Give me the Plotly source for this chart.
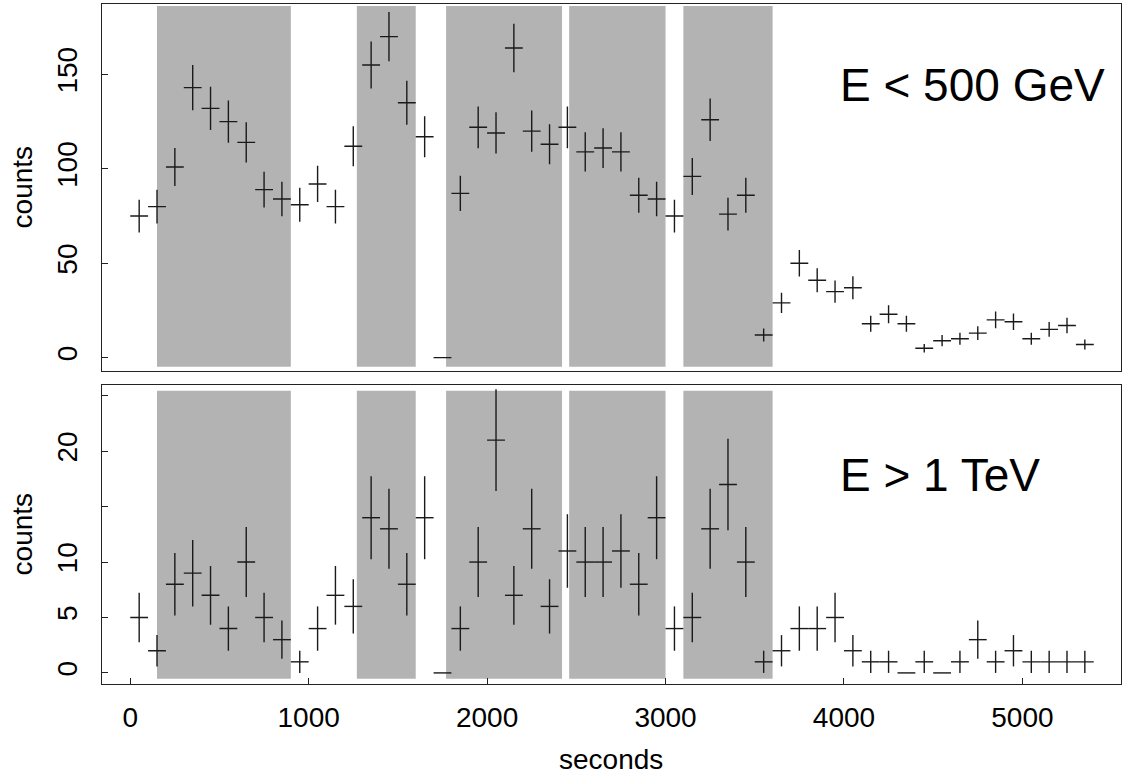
import numpy as np
import plotly.graph_objects as go

# bin centres (seconds)
seconds = [50, 150, 250, 350, 450, 550, 650, 750, 850, 950,
           1050, 1150, 1250, 1350, 1450, 1550, 1650, 1750, 1850, 1950,
           2050, 2150, 2250, 2350, 2450, 2550, 2650, 2750, 2850, 2950,
           3050, 3150, 3250, 3350, 3450, 3550, 3650, 3750, 3850, 3950,
           4050, 4150, 4250, 4350, 4450, 4550, 4650, 4750, 4850, 4950,
           5050, 5150, 5250, 5350]
bin_half_width = 50

counts_low = [75, 80, 101, 143, 132, 125, 114, 89, 84, 81,
              92, 80, 112, 155, 170, 135, 117, 0, 87, 122,
              119, 164, 120, 113, 122, 109, 111, 109, 86, 84,
              75, 96, 126, 76, 86, 12, 29, 50, 41, 35,
              37, 18, 23, 18, 5, 9, 10, 13, 20, 19,
              10, 15, 17, 7]

counts_high = [5, 2, 8, 9, 7, 4, 10, 5, 3, 1,
               4, 7, 6, 14, 13, 8, 14, 0, 4, 10,
               21, 7, 13, 6, 11, 10, 10, 11, 8, 14,
               4, 5, 13, 17, 10, 1, 2, 4, 4, 5,
               2, 1, 1, 0, 1, 0, 1, 3, 1, 2,
               1, 1, 1, 1]

# shaded intervals (seconds)
shade_start = [150, 1270, 1770, 2460, 3100]
shade_end = [900, 1600, 2420, 3000, 3600]

label_low = "E < 500 GeV"
label_high = "E > 1 TeV"

top_ticks = [0, 50, 100, 150]
top_ticktext = ["0", "50", "100", "150"]
bot_ticks = [0, 5, 10, 15, 20, 25]
bot_ticktext = ["0", "5", "10", "", "20", ""]
x_ticks = [0, 1000, 2000, 3000, 4000, 5000]

FONT = "Liberation Sans, Arial, Helvetica, sans-serif"
W, H = 1122, 776

def px_x(p):
    return p / W

def px_y(p):
    return 1 - p / H

fig = go.Figure()

err_style = dict(color="#1a1a1a", thickness=1.4, width=0)

fig.add_trace(go.Scatter(
    x=seconds, y=counts_low, mode="markers",
    marker=dict(size=1, color="rgba(0,0,0,0)"),
    error_y=dict(type="data", array=np.sqrt(counts_low), visible=True, **err_style),
    error_x=dict(type="constant", value=bin_half_width, visible=True, **err_style),
    xaxis="x", yaxis="y", showlegend=False, hoverinfo="x+y"))

fig.add_trace(go.Scatter(
    x=seconds, y=counts_high, mode="markers",
    marker=dict(size=1, color="rgba(0,0,0,0)"),
    error_y=dict(type="data", array=np.sqrt(counts_high), visible=True, **err_style),
    error_x=dict(type="constant", value=bin_half_width, visible=True, **err_style),
    xaxis="x2", yaxis="y2", showlegend=False, hoverinfo="x+y"))

shapes = []
for x0, x1 in zip(shade_start, shade_end):
    shapes.append(dict(type="rect", xref="x", yref="y domain", x0=x0, x1=x1,
                       y0=0.011, y1=0.9945, fillcolor="#B3B3B3",
                       line=dict(width=0), layer="below"))
    shapes.append(dict(type="rect", xref="x2", yref="y2 domain", x0=x0, x1=x1,
                       y0=0.0177, y1=0.98, fillcolor="#B3B3B3",
                       line=dict(width=0), layer="below"))

xdom = [px_x(101.7), px_x(1120.7)]
top_dom = [px_y(370.7), px_y(4)]
bot_dom = [px_y(684), px_y(384.7)]

axis_common = dict(showline=True, linecolor="#222", linewidth=1, mirror=True,
                   showgrid=False, zeroline=False, ticks="inside", ticklen=6,
                   tickcolor="#222", tickfont=dict(family=FONT, size=28, color="black"))

fig.update_layout(
    width=W, height=H, autosize=False,
    margin=dict(l=0, r=0, t=0, b=0),
    paper_bgcolor="white", plot_bgcolor="white",
    shapes=shapes,
    xaxis=dict(domain=xdom, range=[-160, 5551], anchor="y",
               showticklabels=False, ticks="", showline=True, linecolor="#222",
               linewidth=1, mirror=True, showgrid=False, zeroline=False),
    yaxis=dict(domain=top_dom, range=[-6.9, 187.3], anchor="x",
               tickvals=top_ticks, ticktext=top_ticktext, tickangle=-90,
               ticklabelstandoff=13, **axis_common),
    xaxis2=dict(domain=xdom, range=[-160, 5551], anchor="y2",
                tickvals=x_ticks, ticklabelstandoff=8, **axis_common),
    yaxis2=dict(domain=bot_dom, range=[-1.0, 26.0], anchor="x2",
                tickvals=bot_ticks, ticktext=bot_ticktext, tickangle=-90,
                ticklabelstandoff=13, **axis_common),
    annotations=[
        dict(text=label_low, xref="paper", yref="paper", x=px_x(838), y=px_y(85),
             xanchor="left", yanchor="middle", showarrow=False,
             font=dict(family=FONT, size=46, color="black")),
        dict(text=label_high, xref="paper", yref="paper", x=px_x(838), y=px_y(475),
             xanchor="left", yanchor="middle", showarrow=False,
             font=dict(family=FONT, size=46, color="black")),
        dict(text="counts", xref="paper", yref="paper", x=px_x(22), y=px_y(187.4),
             xanchor="center", yanchor="middle", textangle=-90, showarrow=False,
             font=dict(family=FONT, size=28, color="black")),
        dict(text="counts", xref="paper", yref="paper", x=px_x(22), y=px_y(534.4),
             xanchor="center", yanchor="middle", textangle=-90, showarrow=False,
             font=dict(family=FONT, size=28, color="black")),
        dict(text="seconds", xref="paper", yref="paper", x=px_x(611), y=px_y(759),
             xanchor="center", yanchor="middle", showarrow=False,
             font=dict(family=FONT, size=28, color="black")),
    ],
)

fig.write_html("out.html", config={"displayModeBar": False},
               post_script="document.body.style.margin='0';document.body.style.overflow='hidden';")
